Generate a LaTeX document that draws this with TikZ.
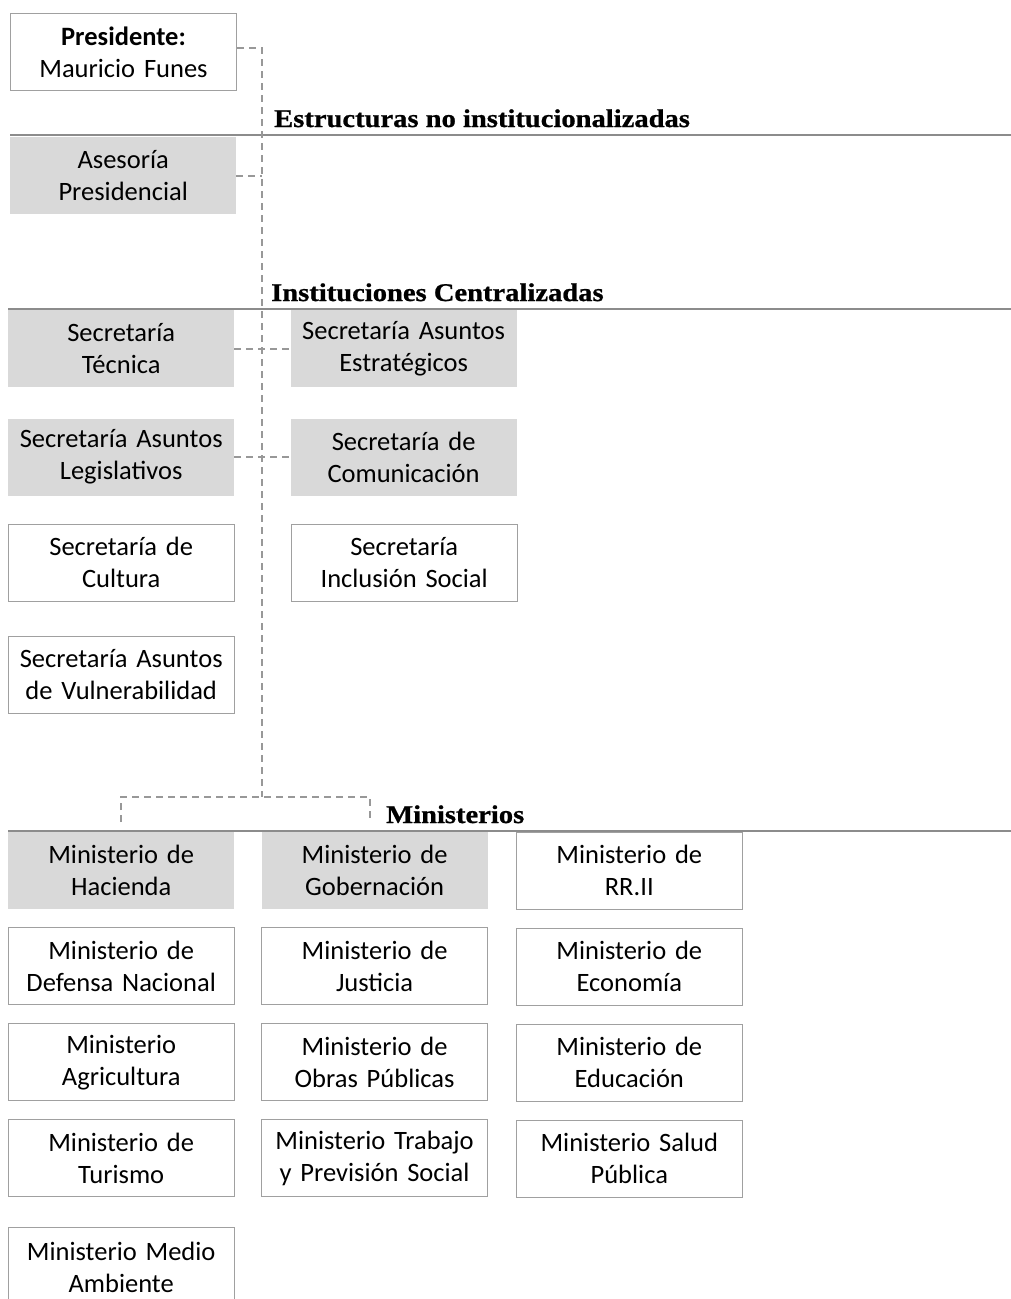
\documentclass[tikz,border=0pt]{standalone}
\usepackage{fontspec}
\setmainfont[WordSpace=0.8]{Carlito}
\newfontfamily\headfont[FakeStretch=1.12,BoldFeatures={FakeBold=0.8}]{Liberation Serif}
\usetikzlibrary{positioning}

\definecolor{shadegray}{HTML}{D9D9D9}
\definecolor{boxgray}{HTML}{A0A0A0}
\definecolor{rulegray}{HTML}{8C8C8C}
\definecolor{linkgray}{HTML}{989898}

\begin{document}
\begin{tikzpicture}[x=1pt,y=1pt,
    box/.style={rectangle,minimum width=226pt,minimum height=77pt,text width=222pt,
      align=center,inner sep=0pt,font=\fontsize{26.5}{32}\selectfont},
    plain/.style={box,draw=boxgray,line width=1pt,fill=white},
    shaded/.style={box,fill=shadegray},
    link/.style={draw=linkgray,line width=1.6pt,dash pattern=on 7pt off 5pt},
    rule/.style={draw=rulegray,line width=2pt},
    heading/.style={anchor=base west,inner sep=0pt,font=\headfont\bfseries\fontsize{25.5}{30}\selectfont}]
    \useasboundingbox (0,0) rectangle (1011,-1299);

    % presidencia
    \node[plain,anchor=north west] (pres) at (10,-13) {\textbf{Presidente:}\\Mauricio Funes};
    \node[shaded,anchor=north west] (asesoria) at (10,-137) {Asesoría\\Presidencial};

    % secretarias
    \node[shaded,anchor=north west] (tecnica) at (8,-310) {Secretaría\\Técnica};
    \node[shaded] (estrategicos) [right=56pt of tecnica] {Secretaría Asuntos\\Estratégicos};
    \node[shaded] (legislativos) [below=31pt of tecnica] {Secretaría Asuntos\\Legislativos};
    \node[shaded] (comunicacion) [right=56pt of legislativos] {Secretaría de\\Comunicación};
    \node[plain] (cultura) [below=28pt of legislativos] {Secretaría de\\Cultura};
    \node[plain] (inclusion) [right=56pt of cultura] {Secretaría\\Inclusión Social};
    \node[plain] (vulnerab) [below=34pt of cultura] {Secretaría Asuntos\\de Vulnerabilidad};

    % ministerios
    \node[shaded,anchor=north west] (hacienda) at (8,-832) {Ministerio de\\Hacienda};
    \node[shaded] (gobernacion) [right=27pt of hacienda] {Ministerio de\\Gobernación};
    \node[plain] (rrii) [right=28pt of gobernacion] {Ministerio de\\RR.II};
    \node[plain] (defensa) [below=18pt of hacienda] {Ministerio de\\Defensa Nacional};
    \node[plain] (justicia) [below=18pt of gobernacion] {Ministerio de\\Justicia};
    \node[plain] (economia) [below=18pt of rrii] {Ministerio de\\Economía};
    \node[plain] (agricultura) [below=18pt of defensa] {Ministerio\\Agricultura};
    \node[plain] (obras) [below=18pt of justicia] {Ministerio de\\Obras Públicas};
    \node[plain] (educacion) [below=18pt of economia] {Ministerio de\\Educación};
    \node[plain] (turismo) [below=18pt of agricultura] {Ministerio de\\Turismo};
    \node[plain] (trabajo) [below=18pt of obras] {Ministerio Trabajo\\y Previsión Social};
    \node[plain] (salud) [below=18pt of educacion] {Ministerio Salud\\Pública};
    \node[plain,minimum height=79pt] (ambiente) [below=30pt of turismo] {Ministerio Medio\\Ambiente};

    % encabezados
    \node[heading] (estructuras) at (274,-127) {Estructuras no institucionalizadas};
    \node[heading] (instituciones) at (271,-301) {Instituciones Centralizadas};
    \node[heading] (ministerios) at (386,-823) {Ministerios};
    \draw[rule] (10,-135) -- (1011,-135);
    \draw[rule] (8,-309) -- (1011,-309);
    \draw[rule] (8,-831) -- (1011,-831);

    % conectores
    \coordinate (fork) at (262,-797);
    \coordinate (dropL) at (121,-822);
    \coordinate (dropR) at (370,-822);
    \draw[link] ([yshift=4pt]pres.east) -| (fork);
    \draw[link] (asesoria.east) -- (asesoria.east -| fork);
    \draw[link] (tecnica.east) -- (estrategicos.west);
    \draw[link] (legislativos.east) -- (comunicacion.west);
    \draw[link] (dropL) |- (fork) -| (dropR);
\end{tikzpicture}
\end{document}
